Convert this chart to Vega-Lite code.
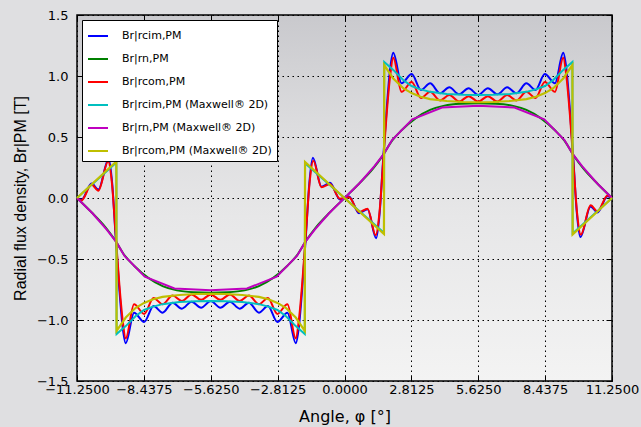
{
  "$schema": "https://vega.github.io/schema/vega-lite/v6.json",
  "width": 535,
  "height": 366,
  "autosize": {"type": "none"},
  "padding": {"left": 77, "top": 15, "right": 29, "bottom": 46},
  "background": "#dfdfe1",
  "view": {
    "stroke": "black",
    "strokeWidth": 1.5,
    "fill": {"gradient": "linear", "x1": 0, "y1": 0, "x2": 0, "y2": 1,
      "stops": [{"offset": 0, "color": "#c9c9cd"}, {"offset": 0.3, "color": "#dcdcde"}, {"offset": 0.55, "color": "#e7e7e8"}, {"offset": 1, "color": "#f3f3f3"}]}
  },
  "datasets": {
    "b": [
      {"x": -11.25, "y": 0}, {"x": -11.06, "y": -0.015}, {"x": -10.64, "y": 0.118}, {"x": -10.35, "y": 0.07}, {"x": -9.92, "y": 0.32}, {"x": -9.77, "y": 0.12}, {"x": -9.63, "y": -0.3}, {"x": -9.48, "y": -0.72}, {"x": -9.33, "y": -1.06}, {"x": -9.2, "y": -1.19},
      {"x": -8.85, "y": -0.94}, {"x": -8.425, "y": -1.016}, {"x": -8.03, "y": -0.885}, {"x": -7.65, "y": -0.94}, {"x": -7.23, "y": -0.858}, {"x": -6.84, "y": -0.907}, {"x": -6.43, "y": -0.85}, {"x": -6.03, "y": -0.899}, {"x": -5.625, "y": -0.844},
      {"x": -5.22, "y": -0.899}, {"x": -4.82, "y": -0.85}, {"x": -4.41, "y": -0.907}, {"x": -4.02, "y": -0.858}, {"x": -3.6, "y": -0.94}, {"x": -3.22, "y": -0.885}, {"x": -2.825, "y": -1.016}, {"x": -2.4, "y": -0.94}, {"x": -2.05, "y": -1.19},
      {"x": -1.92, "y": -1.06}, {"x": -1.77, "y": -0.72}, {"x": -1.62, "y": -0.3}, {"x": -1.48, "y": 0.12}, {"x": -1.33, "y": 0.33}, {"x": -0.97, "y": 0.093}, {"x": -0.61, "y": 0.125}, {"x": -0.19, "y": -0.012}, {"x": 0, "y": 0},
      {"x": 0.19, "y": 0.012}, {"x": 0.61, "y": -0.125}, {"x": 0.97, "y": -0.093}, {"x": 1.33, "y": -0.33}, {"x": 1.48, "y": -0.12}, {"x": 1.62, "y": 0.3}, {"x": 1.77, "y": 0.72}, {"x": 1.92, "y": 1.06}, {"x": 2.05, "y": 1.19},
      {"x": 2.4, "y": 0.94}, {"x": 2.825, "y": 1.016}, {"x": 3.22, "y": 0.885}, {"x": 3.6, "y": 0.94}, {"x": 4.02, "y": 0.858}, {"x": 4.41, "y": 0.907}, {"x": 4.82, "y": 0.85}, {"x": 5.22, "y": 0.899}, {"x": 5.625, "y": 0.844},
      {"x": 6.03, "y": 0.899}, {"x": 6.43, "y": 0.85}, {"x": 6.84, "y": 0.907}, {"x": 7.23, "y": 0.858}, {"x": 7.65, "y": 0.94}, {"x": 8.03, "y": 0.885}, {"x": 8.425, "y": 1.016}, {"x": 8.85, "y": 0.94}, {"x": 9.2, "y": 1.19},
      {"x": 9.33, "y": 1.06}, {"x": 9.48, "y": 0.72}, {"x": 9.63, "y": 0.3}, {"x": 9.77, "y": -0.12}, {"x": 9.92, "y": -0.32}, {"x": 10.35, "y": -0.07}, {"x": 10.64, "y": -0.118}, {"x": 11.06, "y": 0.015}, {"x": 11.25, "y": 0}
    ],
    "g": [
      {"x": -11.25, "y": 0}, {"x": -10.65, "y": -0.115}, {"x": -10.05, "y": -0.24}, {"x": -9.65, "y": -0.345}, {"x": -9.25, "y": -0.47}, {"x": -8.85, "y": -0.555}, {"x": -8.25, "y": -0.655}, {"x": -7.65, "y": -0.722}, {"x": -7.05, "y": -0.757}, {"x": -6.35, "y": -0.772},
      {"x": -5.625, "y": -0.776}, {"x": -4.9, "y": -0.772}, {"x": -4.2, "y": -0.757}, {"x": -3.6, "y": -0.722}, {"x": -3.0, "y": -0.655}, {"x": -2.4, "y": -0.555}, {"x": -2.0, "y": -0.47}, {"x": -1.6, "y": -0.345}, {"x": -1.2, "y": -0.24}, {"x": -0.6, "y": -0.115},
      {"x": 0, "y": 0}, {"x": 0.6, "y": 0.115}, {"x": 1.2, "y": 0.24}, {"x": 1.6, "y": 0.345}, {"x": 2.0, "y": 0.47}, {"x": 2.4, "y": 0.555}, {"x": 3.0, "y": 0.655}, {"x": 3.6, "y": 0.722}, {"x": 4.2, "y": 0.757}, {"x": 4.9, "y": 0.772},
      {"x": 5.625, "y": 0.776}, {"x": 6.35, "y": 0.772}, {"x": 7.05, "y": 0.757}, {"x": 7.65, "y": 0.722}, {"x": 8.25, "y": 0.655}, {"x": 8.85, "y": 0.555}, {"x": 9.25, "y": 0.47}, {"x": 9.65, "y": 0.345}, {"x": 10.05, "y": 0.24}, {"x": 10.65, "y": 0.115}, {"x": 11.25, "y": 0}
    ],
    "r": [
      {"x": -11.25, "y": 0}, {"x": -11.06, "y": -0.02}, {"x": -10.64, "y": 0.11}, {"x": -10.35, "y": 0.06}, {"x": -9.94, "y": 0.3}, {"x": -9.78, "y": 0.12}, {"x": -9.63, "y": -0.28}, {"x": -9.48, "y": -0.68}, {"x": -9.33, "y": -1.0}, {"x": -9.2, "y": -1.15},
      {"x": -8.85, "y": -0.87}, {"x": -8.425, "y": -0.95}, {"x": -8.03, "y": -0.82}, {"x": -7.65, "y": -0.87}, {"x": -7.23, "y": -0.8}, {"x": -6.84, "y": -0.845}, {"x": -6.43, "y": -0.79}, {"x": -6.03, "y": -0.835}, {"x": -5.625, "y": -0.79},
      {"x": -5.22, "y": -0.835}, {"x": -4.82, "y": -0.79}, {"x": -4.41, "y": -0.845}, {"x": -4.02, "y": -0.8}, {"x": -3.6, "y": -0.87}, {"x": -3.22, "y": -0.82}, {"x": -2.825, "y": -0.95}, {"x": -2.4, "y": -0.87}, {"x": -2.05, "y": -1.15},
      {"x": -1.92, "y": -1.0}, {"x": -1.77, "y": -0.68}, {"x": -1.62, "y": -0.28}, {"x": -1.47, "y": 0.12}, {"x": -1.31, "y": 0.305}, {"x": -0.97, "y": 0.088}, {"x": -0.61, "y": 0.115}, {"x": -0.19, "y": -0.006}, {"x": 0, "y": 0},
      {"x": 0.19, "y": 0.006}, {"x": 0.61, "y": -0.115}, {"x": 0.97, "y": -0.088}, {"x": 1.31, "y": -0.305}, {"x": 1.47, "y": -0.12}, {"x": 1.62, "y": 0.28}, {"x": 1.77, "y": 0.68}, {"x": 1.92, "y": 1.0}, {"x": 2.05, "y": 1.15},
      {"x": 2.4, "y": 0.87}, {"x": 2.825, "y": 0.95}, {"x": 3.22, "y": 0.82}, {"x": 3.6, "y": 0.87}, {"x": 4.02, "y": 0.8}, {"x": 4.41, "y": 0.845}, {"x": 4.82, "y": 0.79}, {"x": 5.22, "y": 0.835}, {"x": 5.625, "y": 0.79},
      {"x": 6.03, "y": 0.835}, {"x": 6.43, "y": 0.79}, {"x": 6.84, "y": 0.845}, {"x": 7.23, "y": 0.8}, {"x": 7.65, "y": 0.87}, {"x": 8.03, "y": 0.82}, {"x": 8.425, "y": 0.95}, {"x": 8.85, "y": 0.87}, {"x": 9.2, "y": 1.15},
      {"x": 9.33, "y": 1.0}, {"x": 9.48, "y": 0.68}, {"x": 9.63, "y": 0.28}, {"x": 9.78, "y": -0.12}, {"x": 9.94, "y": -0.3}, {"x": 10.35, "y": -0.06}, {"x": 10.64, "y": -0.11}, {"x": 11.06, "y": 0.02}, {"x": 11.25, "y": 0}
    ],
    "c": [
      {"x": -11.25, "y": 0}, {"x": -9.595, "y": 0.29}, {"x": -9.585, "y": -1.115}, {"x": -9.2, "y": -1.05}, {"x": -8.78, "y": -0.967}, {"x": -8.43, "y": -0.918}, {"x": -8.05, "y": -0.89}, {"x": -7.65, "y": -0.87}, {"x": -6.95, "y": -0.852}, {"x": -6.25, "y": -0.846},
      {"x": -5.625, "y": -0.844}, {"x": -5.0, "y": -0.846}, {"x": -4.3, "y": -0.852}, {"x": -3.6, "y": -0.87}, {"x": -3.2, "y": -0.89}, {"x": -2.82, "y": -0.918}, {"x": -2.47, "y": -0.967}, {"x": -2.05, "y": -1.05}, {"x": -1.67, "y": -1.115}, {"x": -1.66, "y": 0.285},
      {"x": 0, "y": 0}, {"x": 1.66, "y": -0.285}, {"x": 1.67, "y": 1.115}, {"x": 2.05, "y": 1.05}, {"x": 2.47, "y": 0.967}, {"x": 2.82, "y": 0.918}, {"x": 3.2, "y": 0.89}, {"x": 3.6, "y": 0.87}, {"x": 4.3, "y": 0.852}, {"x": 5.0, "y": 0.846},
      {"x": 5.625, "y": 0.844}, {"x": 6.25, "y": 0.846}, {"x": 6.95, "y": 0.852}, {"x": 7.65, "y": 0.87}, {"x": 8.05, "y": 0.89}, {"x": 8.43, "y": 0.918}, {"x": 8.78, "y": 0.967}, {"x": 9.2, "y": 1.05}, {"x": 9.585, "y": 1.115}, {"x": 9.595, "y": -0.29}, {"x": 11.25, "y": 0}
    ],
    "m": [
      {"x": -11.25, "y": 0}, {"x": -10.6, "y": -0.125}, {"x": -10.0, "y": -0.26}, {"x": -9.6, "y": -0.36}, {"x": -9.25, "y": -0.475}, {"x": -8.4, "y": -0.645}, {"x": -7.15, "y": -0.742}, {"x": -5.625, "y": -0.757}, {"x": -4.1, "y": -0.742}, {"x": -2.85, "y": -0.645},
      {"x": -2.0, "y": -0.475}, {"x": -1.65, "y": -0.36}, {"x": -1.25, "y": -0.26}, {"x": -0.65, "y": -0.125}, {"x": 0, "y": 0}, {"x": 0.65, "y": 0.125}, {"x": 1.25, "y": 0.26}, {"x": 1.65, "y": 0.36}, {"x": 2.0, "y": 0.475}, {"x": 2.85, "y": 0.645},
      {"x": 4.1, "y": 0.742}, {"x": 5.625, "y": 0.757}, {"x": 7.15, "y": 0.742}, {"x": 8.4, "y": 0.645}, {"x": 9.25, "y": 0.475}, {"x": 9.6, "y": 0.36}, {"x": 10.0, "y": 0.26}, {"x": 10.6, "y": 0.125}, {"x": 11.25, "y": 0}
    ],
    "yl": [
      {"x": -11.25, "y": 0}, {"x": -9.595, "y": 0.3}, {"x": -9.585, "y": -1.09}, {"x": -9.2, "y": -0.98}, {"x": -8.78, "y": -0.9}, {"x": -8.43, "y": -0.86}, {"x": -8.05, "y": -0.83}, {"x": -7.65, "y": -0.81}, {"x": -6.95, "y": -0.795}, {"x": -6.25, "y": -0.787},
      {"x": -5.625, "y": -0.785}, {"x": -5.0, "y": -0.787}, {"x": -4.3, "y": -0.795}, {"x": -3.6, "y": -0.81}, {"x": -3.2, "y": -0.83}, {"x": -2.82, "y": -0.86}, {"x": -2.47, "y": -0.9}, {"x": -2.05, "y": -0.98}, {"x": -1.67, "y": -1.09}, {"x": -1.66, "y": 0.295},
      {"x": 0, "y": 0}, {"x": 1.66, "y": -0.295}, {"x": 1.67, "y": 1.09}, {"x": 2.05, "y": 0.98}, {"x": 2.47, "y": 0.9}, {"x": 2.82, "y": 0.86}, {"x": 3.2, "y": 0.83}, {"x": 3.6, "y": 0.81}, {"x": 4.3, "y": 0.795}, {"x": 5.0, "y": 0.787},
      {"x": 5.625, "y": 0.785}, {"x": 6.25, "y": 0.787}, {"x": 6.95, "y": 0.795}, {"x": 7.65, "y": 0.81}, {"x": 8.05, "y": 0.83}, {"x": 8.43, "y": 0.86}, {"x": 8.78, "y": 0.9}, {"x": 9.2, "y": 0.98}, {"x": 9.585, "y": 1.09}, {"x": 9.595, "y": -0.3}, {"x": 11.25, "y": 0}
    ]
  },
  "layer": [
    {
      "data": {"name": "b"},
      "mark": {"type": "line", "interpolate": "monotone", "strokeWidth": 2},
      "encoding": {
        "x": {"field": "x", "type": "quantitative", "scale": {"domain": [-11.25, 11.25], "nice": false, "zero": false},
          "axis": {"orient": "bottom", "values": [-11.25, -8.4375, -5.625, -2.8125, 0, 2.8125, 5.625, 8.4375, 11.25], "format": ".4f",
            "title": "Angle, φ [°]", "grid": true, "gridColor": "black", "gridDash": [1.5, 3.5], "gridWidth": 1, "gridOpacity": 1,
            "domain": false, "tickSize": -6, "tickColor": "black", "tickWidth": 1, "labelPadding": 8,
            "labelFont": "DejaVu Sans", "labelFontSize": 13, "labelColor": "black", "labelFlush": false, "labelOverlap": false, "labelBound": false,
            "titleFont": "DejaVu Sans", "titleFontSize": 16, "titleFontWeight": "normal", "titleColor": "black", "titlePadding": 12}},
        "y": {"field": "y", "type": "quantitative", "scale": {"domain": [-1.5, 1.5], "nice": false, "zero": false},
          "axis": {"orient": "left", "values": [-1.5, -1, -0.5, 0, 0.5, 1, 1.5], "format": ".1f",
            "title": "Radial flux density, Br|PM [T]", "grid": true, "gridColor": "black", "gridDash": [1.5, 3.5], "gridWidth": 1, "gridOpacity": 1,
            "domain": false, "tickSize": -6, "tickColor": "black", "tickWidth": 1, "labelPadding": 15,
            "labelFont": "DejaVu Sans", "labelFontSize": 13, "labelColor": "black", "labelFlush": false, "labelOverlap": false, "labelBound": false,
            "titleFont": "Liberation Sans", "titleFontSize": 16, "titleFontWeight": "normal", "titleColor": "black", "titlePadding": 8}},
        "color": {"datum": "Br|rcim,PM", "type": "nominal",
          "scale": {"domain": ["Br|rcim,PM", "Br|rn,PM", "Br|rcom,PM", "Br|rcim,PM (Maxwell® 2D)", "Br|rn,PM (Maxwell® 2D)", "Br|rcom,PM (Maxwell® 2D)"],
                    "range": ["#0000ff", "#008000", "#ff0000", "#00bfbf", "#bf00bf", "#bfbf00"]},
          "legend": {"title": null}}
      }
    },
    {
      "data": {"name": "g"},
      "mark": {"type": "line", "interpolate": "monotone", "strokeWidth": 2},
      "encoding": {
        "x": {"field": "x", "type": "quantitative", "axis": null},
        "y": {"field": "y", "type": "quantitative", "axis": null},
        "color": {"datum": "Br|rn,PM", "type": "nominal",
          "scale": {"domain": ["Br|rcim,PM", "Br|rn,PM", "Br|rcom,PM", "Br|rcim,PM (Maxwell® 2D)", "Br|rn,PM (Maxwell® 2D)", "Br|rcom,PM (Maxwell® 2D)"],
                    "range": ["#0000ff", "#008000", "#ff0000", "#00bfbf", "#bf00bf", "#bfbf00"]},
          "legend": {"title": null}}
      }
    },
    {
      "data": {"name": "r"},
      "mark": {"type": "line", "interpolate": "monotone", "strokeWidth": 2},
      "encoding": {
        "x": {"field": "x", "type": "quantitative", "axis": null},
        "y": {"field": "y", "type": "quantitative", "axis": null},
        "color": {"datum": "Br|rcom,PM", "type": "nominal",
          "scale": {"domain": ["Br|rcim,PM", "Br|rn,PM", "Br|rcom,PM", "Br|rcim,PM (Maxwell® 2D)", "Br|rn,PM (Maxwell® 2D)", "Br|rcom,PM (Maxwell® 2D)"],
                    "range": ["#0000ff", "#008000", "#ff0000", "#00bfbf", "#bf00bf", "#bfbf00"]},
          "legend": {"title": null}}
      }
    },
    {
      "data": {"name": "c"},
      "mark": {"type": "line", "strokeWidth": 2},
      "encoding": {
        "x": {"field": "x", "type": "quantitative", "axis": null},
        "y": {"field": "y", "type": "quantitative", "axis": null},
        "color": {"datum": "Br|rcim,PM (Maxwell® 2D)", "type": "nominal",
          "scale": {"domain": ["Br|rcim,PM", "Br|rn,PM", "Br|rcom,PM", "Br|rcim,PM (Maxwell® 2D)", "Br|rn,PM (Maxwell® 2D)", "Br|rcom,PM (Maxwell® 2D)"],
                    "range": ["#0000ff", "#008000", "#ff0000", "#00bfbf", "#bf00bf", "#bfbf00"]},
          "legend": {"title": null}}
      }
    },
    {
      "data": {"name": "m"},
      "mark": {"type": "line", "strokeWidth": 2},
      "encoding": {
        "x": {"field": "x", "type": "quantitative", "axis": null},
        "y": {"field": "y", "type": "quantitative", "axis": null},
        "color": {"datum": "Br|rn,PM (Maxwell® 2D)", "type": "nominal",
          "scale": {"domain": ["Br|rcim,PM", "Br|rn,PM", "Br|rcom,PM", "Br|rcim,PM (Maxwell® 2D)", "Br|rn,PM (Maxwell® 2D)", "Br|rcom,PM (Maxwell® 2D)"],
                    "range": ["#0000ff", "#008000", "#ff0000", "#00bfbf", "#bf00bf", "#bfbf00"]},
          "legend": {"title": null}}
      }
    },
    {
      "data": {"name": "yl"},
      "mark": {"type": "line", "strokeWidth": 2.2},
      "encoding": {
        "x": {"field": "x", "type": "quantitative", "axis": null},
        "y": {"field": "y", "type": "quantitative", "axis": null},
        "color": {"datum": "Br|rcom,PM (Maxwell® 2D)", "type": "nominal",
          "scale": {"domain": ["Br|rcim,PM", "Br|rn,PM", "Br|rcom,PM", "Br|rcim,PM (Maxwell® 2D)", "Br|rn,PM (Maxwell® 2D)", "Br|rcom,PM (Maxwell® 2D)"],
                    "range": ["#0000ff", "#008000", "#ff0000", "#00bfbf", "#bf00bf", "#bfbf00"]},
          "legend": {"title": null}}
      }
    },
    {
      "data": {"name": "b"},
      "mark": {"type": "line", "strokeOpacity": 0},
      "encoding": {
        "x": {"field": "x", "type": "quantitative",
          "axis": {"orient": "top", "values": [-11.25, -8.4375, -5.625, -2.8125, 0, 2.8125, 5.625, 8.4375, 11.25], "labels": false, "title": null, "grid": false, "domain": false, "tickSize": -6, "tickColor": "black", "tickWidth": 1}},
        "y": {"field": "y", "type": "quantitative",
          "axis": {"orient": "right", "values": [-1.5, -1, -0.5, 0, 0.5, 1, 1.5], "labels": false, "title": null, "grid": false, "domain": false, "tickSize": -6, "tickColor": "black", "tickWidth": 1}}
      }
    }
  ],
  "resolve": {"axis": {"x": "independent", "y": "independent"}},
  "config": {
    "legend": {
      "orient": "top-left", "offset": 5, "fillColor": "white", "strokeColor": "black", "strokeWidth": 1, "padding": 5, "cornerRadius": 0,
      "symbolType": "stroke", "symbolSize": 400, "symbolStrokeWidth": 2, "labelFont": "DejaVu Sans", "labelFontSize": 11, "labelColor": "black",
      "labelOffset": 13, "rowPadding": 7, "labelLimit": 300
    }
  }
}
